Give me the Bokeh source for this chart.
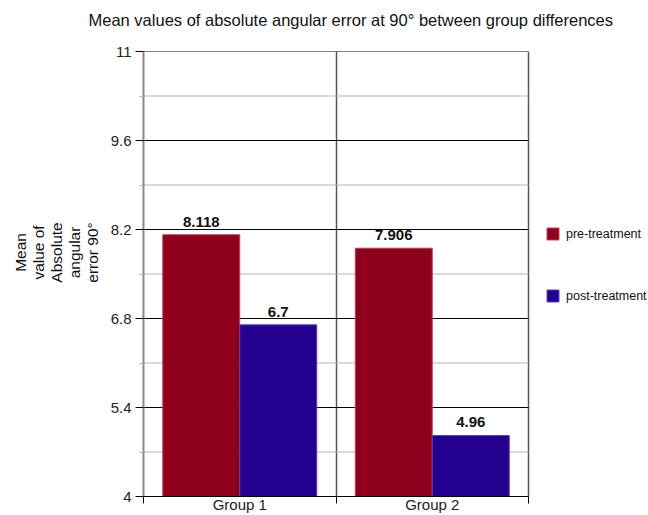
from bokeh.plotting import figure
from bokeh.models import (FixedTicker, Range1d, Legend, LegendItem, ColumnDataSource,
                          LabelSet, Title, CustomJSTickFormatter)
from bokeh.core.properties import value
from bokeh.embed import file_html
from bokeh.resources import INLINE

# ---- data ----
groups = ["Group 1", "Group 2"]
series = ["pre-treatment", "post-treatment"]
pre_values = [8.118, 7.906]
post_values = [6.7, 4.96]
y_ticks = [4, 5.4, 6.8, 8.2, 9.6, 11]
y_minor_ticks = [4.7, 6.1, 7.5, 8.9, 10.3]
title_text = "Mean values of absolute angular error at 90° between group differences"
y_label_lines = ["Mean", "value of", "Absolute", "angular", "error 90°"]

RED = "#8E001C"
BLUE = "#24008E"
RED_EDGE = "#B4485C"
BLUE_EDGE = "#5642B4"
FONT = "Liberation Sans"

# layout: plot area 143..528 px, legend area to its right (inside the frame, beyond the data)
FRAME_LEFT, DATA_RIGHT, CANVAS_W = 143, 528, 648
x_end = len(groups) * (CANVAS_W - FRAME_LEFT) / (DATA_RIGHT - FRAME_LEFT)

idx = list(range(len(groups)))
pre_src = ColumnDataSource(dict(x=[i + 0.3 for i in idx], top=pre_values,
                                text=[str(v) for v in pre_values]))
post_src = ColumnDataSource(dict(x=[i + 0.7 for i in idx], top=post_values,
                                 text=[str(v) for v in post_values]))

p = figure(width=648, height=515, output_backend="svg", toolbar_location=None, title=None,
           x_range=Range1d(0, x_end), y_range=Range1d(y_ticks[0], y_ticks[-1]),
           min_border_left=FRAME_LEFT, min_border_right=0, min_border_top=0, min_border_bottom=0)
p.outline_line_color = None

# spacer title (closest to frame) then real title
p.add_layout(Title(text="\u00a0", text_font_size="8px", standoff=0), "above")
p.add_layout(Title(text=title_text, text_font=FONT, text_font_size="16.5px",
                   text_font_style="normal", text_color="#111111", align="left",
                   offset=-55, standoff=20, vertical_align="top"), "above")

# horizontal grid lines, limited to the data area
p.segment(x0=0, x1=len(groups), y0=y_minor_ticks, y1=y_minor_ticks,
          line_color="#b3b3b3", line_width=1)
p.segment(x0=0, x1=len(groups), y0=y_ticks, y1=y_ticks, line_color="black", line_width=1)

# bars
r_pre = p.vbar(x="x", top="top", bottom=y_ticks[0], width=0.4, source=pre_src,
               fill_color=RED, line_color=RED_EDGE, line_width=1)
r_post = p.vbar(x="x", top="top", bottom=y_ticks[0], width=0.4, source=post_src,
                fill_color=BLUE, line_color=BLUE_EDGE, line_width=1)

for src in (pre_src, post_src):
    p.add_layout(LabelSet(x="x", y="top", text="text", source=src, y_offset=8,
                          text_align="center", text_baseline="bottom",
                          text_font=value(FONT), text_font_size="15px",
                          text_font_style="bold", text_color="#111111"))

# y axis
p.yaxis.ticker = FixedTicker(ticks=y_ticks, minor_ticks=y_minor_ticks)
p.yaxis.formatter = CustomJSTickFormatter(code="return String(tick)")
p.yaxis.axis_line_color = "#888888"
p.yaxis.axis_line_width = 2
p.yaxis.major_tick_line_color = "black"
p.yaxis.major_tick_out = 8
p.yaxis.major_tick_in = 0
p.yaxis.minor_tick_line_color = "#b3b3b3"
p.yaxis.minor_tick_out = 4
p.yaxis.minor_tick_in = 0
p.yaxis.major_label_text_font = FONT
p.yaxis.major_label_text_font_size = "15px"
p.yaxis.major_label_text_color = "#222222"
p.yaxis.major_label_standoff = 4
pad = "\u00a0" * 10
p.yaxis.axis_label = "\n".join(pad + s for s in y_label_lines)
p.yaxis.axis_label_text_font = FONT
p.yaxis.axis_label_text_font_size = "15.5px"
p.yaxis.axis_label_text_font_style = "normal"
p.yaxis.axis_label_text_color = "#111111"
p.yaxis.axis_label_text_line_height = 1.05
p.yaxis.axis_label_standoff = 7

p.ygrid.visible = False

# x axis
p.xaxis.bounds = (0, len(groups))
p.xaxis.ticker = FixedTicker(ticks=[i + 0.5 for i in idx],
                             minor_ticks=list(range(len(groups) + 1)))
p.xaxis.formatter = CustomJSTickFormatter(args=dict(labels=groups),
                                          code="return labels[Math.floor(tick)]")
p.xaxis.axis_line_color = "black"
p.xaxis.major_tick_line_color = None
p.xaxis.major_tick_out = 0
p.xaxis.major_tick_in = 0
p.xaxis.minor_tick_line_color = "black"
p.xaxis.minor_tick_out = 7
p.xaxis.minor_tick_in = 0
p.xaxis.major_label_text_font = FONT
p.xaxis.major_label_text_font_size = "15px"
p.xaxis.major_label_text_color = "#222222"
p.xaxis.major_label_standoff = -8

p.xgrid.ticker = FixedTicker(ticks=list(range(1, len(groups) + 1)))
p.xgrid.grid_line_color = "#555555"
p.xgrid.grid_line_width = 1.5

# legend (inside the frame, right of the data area)
legend = Legend(items=[LegendItem(label=series[0], renderers=[r_pre]),
                       LegendItem(label=series[1], renderers=[r_post])],
                location=(402, 193), orientation="vertical",
                glyph_width=15, glyph_height=15, spacing=47, padding=0, margin=0,
                label_text_font=FONT, label_text_font_size="12.5px", label_standoff=6,
                label_text_color="#111111",
                border_line_color=None, background_fill_alpha=0)
p.add_layout(legend)

open("out.html", "w").write(file_html(p, INLINE))
